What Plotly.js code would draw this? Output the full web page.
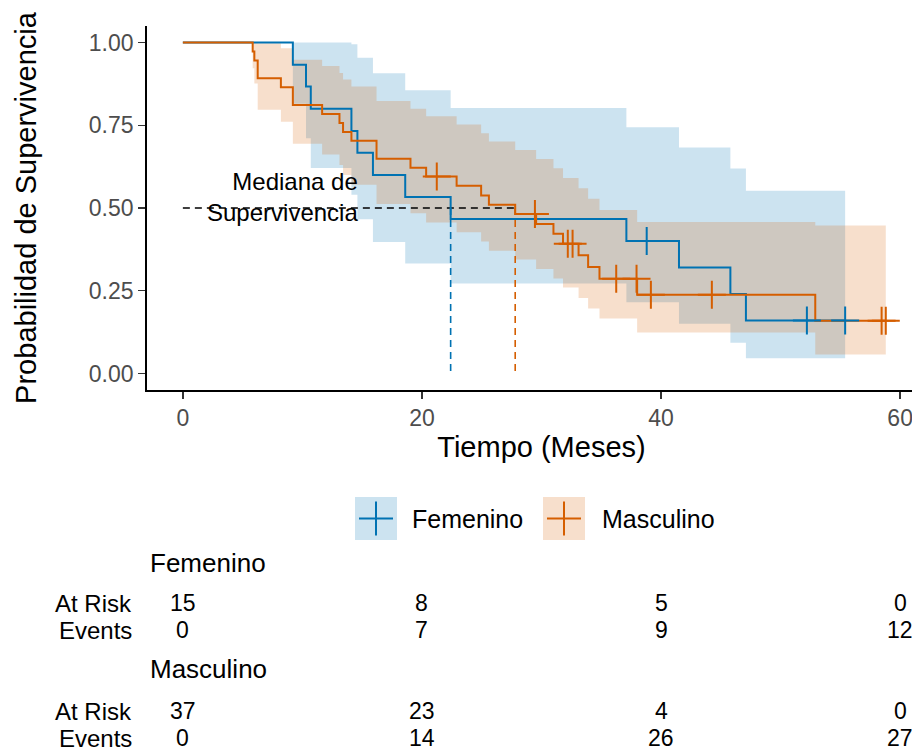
<!DOCTYPE html>
<html>
<head>
<meta charset="utf-8">
<script src="https://cdn.plot.ly/plotly-3.0.1.min.js"></script>
<style>
html,body{margin:0;padding:0;overflow:hidden;background:#fff;}
#chart{width:936px;height:753px;}
</style>
</head>
<body>
<div id="chart"></div>
<script>
// ---- Data ----
const groups = ["Femenino", "Masculino"];
const colors = ["#0072B2", "#D55E00"];
const ribbonColors = ["rgba(0,114,178,0.2)", "rgba(213,94,0,0.2)"];

const femTime  = [0, 9.2, 10.3, 10.7, 14.1, 14.6, 15.9, 18.6, 22.4, 37.1, 41.5, 45.8, 47.1, 55.4];
const femSurv  = [1, 0.933, 0.867, 0.800, 0.733, 0.667, 0.600, 0.533, 0.467, 0.400, 0.320, 0.240, 0.160, 0.160];
const femUpper = [1, 1, 1, 1, 0.995, 0.954, 0.907, 0.856, 0.802, 0.744, 0.683, 0.619, 0.552, 0.552];
const femLower = [1, 0.815, 0.711, 0.621, 0.540, 0.466, 0.397, 0.332, 0.272, 0.215, 0.150, 0.093, 0.046, 0.046];
const femCensorTime = [38.8, 52.2, 55.4];
const femCensorSurv = [0.400, 0.160, 0.160];

const mascTime  = [0, 5.84, 5.98, 6.26, 8.2, 9.2, 11.65, 13.1, 13.4, 14.1, 16.2, 19.04, 20.35, 22.9, 24.95, 25.6, 27.8, 29.55, 31.0, 31.8, 33.1, 33.9, 34.85, 38.0, 52.9, 58.8];
const mascSurv  = [1, 0.973, 0.946, 0.892, 0.865, 0.811, 0.784, 0.757, 0.730, 0.703, 0.649, 0.622, 0.595, 0.567, 0.538, 0.510, 0.482, 0.452, 0.422, 0.392, 0.357, 0.322, 0.286, 0.238, 0.159, 0.159];
const mascUpper = [1, 1, 1, 0.998, 0.983, 0.948, 0.929, 0.908, 0.888, 0.867, 0.823, 0.800, 0.777, 0.752, 0.726, 0.701, 0.675, 0.648, 0.620, 0.591, 0.560, 0.528, 0.494, 0.458, 0.447, 0.447];
const mascLower = [1, 0.922, 0.876, 0.797, 0.761, 0.694, 0.662, 0.630, 0.600, 0.570, 0.512, 0.484, 0.456, 0.427, 0.399, 0.371, 0.344, 0.316, 0.287, 0.260, 0.228, 0.196, 0.166, 0.124, 0.057, 0.057];
const mascCensorTime = [21.24, 29.45, 32.2, 32.6, 36.25, 37.95, 39.15, 44.25, 58.45, 58.8];
const mascCensorSurv = [0.595, 0.482, 0.392, 0.392, 0.286, 0.286, 0.238, 0.238, 0.159, 0.159];

const medianTimes = [22.4, 27.8];
const medianLevel = 0.5;

const tableTimes = [0, 20, 40, 60];
const femAtRisk  = [15, 8, 5, 0];
const femEvents  = [0, 7, 9, 12];
const mascAtRisk = [37, 23, 4, 0];
const mascEvents = [0, 14, 26, 27];

const xTicks = [0, 20, 40, 60];
const yTicks = [0, 0.25, 0.5, 0.75, 1];
const yTickText = ["0.00", "0.25", "0.50", "0.75", "1.00"];

// ---- Build traces ----
const FONT = "Liberation Sans, Arial, sans-serif";
const series = [
  {t: femTime, s: femSurv, up: femUpper, lo: femLower, ct: femCensorTime, cs: femCensorSurv},
  {t: mascTime, s: mascSurv, up: mascUpper, lo: mascLower, ct: mascCensorTime, cs: mascCensorSurv}
];
const traces = [];
series.forEach((d, i) => {
  traces.push({x: d.t, y: d.lo, type: "scatter", mode: "lines", line: {width: 0, shape: "hv"},
    hoverinfo: "skip", showlegend: false});
  traces.push({x: d.t, y: d.up, type: "scatter", mode: "lines", line: {width: 0, shape: "hv"},
    fill: "tonexty", fillcolor: ribbonColors[i], hoverinfo: "skip", showlegend: false});
});
// median reference lines
traces.push({x: [0, Math.max(...medianTimes)], y: [medianLevel, medianLevel], type: "scatter", mode: "lines",
  line: {color: "#000", width: 1.6, dash: "7px,5px"}, showlegend: false, hoverinfo: "skip"});
medianTimes.forEach((m, i) => {
  traces.push({x: [m, m], y: [medianLevel, 0], type: "scatter", mode: "lines",
    line: {color: colors[i], width: 1.6, dash: "7px,5px"}, showlegend: false, hoverinfo: "skip"});
});
// survival curves
series.forEach((d, i) => {
  traces.push({x: d.t, y: d.s, type: "scatter", mode: "lines", name: groups[i],
    line: {color: colors[i], width: 2, shape: "hv"}, showlegend: false});
});
// censor marks
series.forEach((d, i) => {
  traces.push({x: d.ct, y: d.cs, type: "scatter", mode: "markers", name: groups[i] + " censor",
    marker: {symbol: "cross-thin", size: 20, line: {color: colors[i], width: 2}, color: colors[i]},
    showlegend: false});
});

// ---- Layout helpers ----
const W = 936, H = 753, ML = 147, MT = 26;
const PW = W - ML, PH = H - MT;
const px2x = px => (px - ML) / PW;
const py2y = py => (H - py) / PH;

const annotations = [];
annotations.push({x: 14.8, y: 0.532, xref: "x", yref: "y", text: "Mediana de<br>Supervivencia",
  showarrow: false, xanchor: "right", align: "right", font: {family: FONT, size: 24, color: "#000"}});

// risk table
const tableBlocks = [
  {name: groups[0], risk: femAtRisk, ev: femEvents, hy: 563, ry: 603, ey: 630},
  {name: groups[1], risk: mascAtRisk, ev: mascEvents, hy: 669, ry: 711, ey: 738}
];
const TF = {family: FONT, size: 23, color: "#000"};
const LF = {family: FONT, size: 24, color: "#000"};
const HF = {family: FONT, size: 26, color: "#000"};
tableBlocks.forEach(b => {
  annotations.push({x: px2x(148), y: py2y(b.hy), xref: "paper", yref: "paper", text: b.name,
    showarrow: false, xanchor: "left", yanchor: "middle", font: HF});
  annotations.push({x: px2x(134), y: py2y(b.ry), xref: "paper", yref: "paper", text: "At Risk",
    showarrow: false, xanchor: "right", yanchor: "middle", font: LF});
  annotations.push({x: px2x(134), y: py2y(b.ey), xref: "paper", yref: "paper", text: "Events",
    showarrow: false, xanchor: "right", yanchor: "middle", font: LF});
  tableTimes.forEach((t, k) => {
    annotations.push({x: t, y: py2y(b.ry), xref: "x", yref: "paper", text: String(b.risk[k]),
      showarrow: false, xanchor: "center", yanchor: "middle", font: TF});
    annotations.push({x: t, y: py2y(b.ey), xref: "x", yref: "paper", text: String(b.ev[k]),
      showarrow: false, xanchor: "center", yanchor: "middle", font: TF});
  });
});

// legend (drawn)
const shapes = [];
const legendItems = [{x0: 355, tx: 410}, {x0: 543, tx: 600}];
legendItems.forEach((it, i) => {
  const cx = it.x0 + 21, cy = 518.5;
  shapes.push({type: "rect", xref: "paper", yref: "paper", x0: px2x(it.x0), x1: px2x(it.x0 + 42),
    y0: py2y(540), y1: py2y(497), fillcolor: ribbonColors[i], line: {width: 0}});
  shapes.push({type: "line", xref: "paper", yref: "paper", x0: px2x(cx - 17), x1: px2x(cx + 17),
    y0: py2y(cy), y1: py2y(cy), line: {color: colors[i], width: 2}});
  shapes.push({type: "line", xref: "paper", yref: "paper", x0: px2x(cx), x1: px2x(cx),
    y0: py2y(cy - 17), y1: py2y(cy + 17), line: {color: colors[i], width: 2}});
  annotations.push({x: px2x(it.tx), y: py2y(519), xref: "paper", yref: "paper", text: groups[i],
    showarrow: false, xanchor: "left", yanchor: "middle", font: {family: FONT, size: 25, color: "#000"}});
});

const layout = {
  width: W, height: H,
  margin: {l: ML, r: 0, t: MT, b: 0},
  paper_bgcolor: "#fff", plot_bgcolor: "#fff",
  showlegend: false,
  font: {family: FONT},
  xaxis: {
    range: [-3, 63], domain: [0, 1], anchor: "y",
    tickvals: xTicks, ticks: "outside", ticklen: 7, tickwidth: 1.5, tickcolor: "#333",
    tickfont: {family: FONT, size: 23, color: "#4D4D4D"},
    showline: true, linecolor: "#000", linewidth: 1.8, showgrid: false, zeroline: false,
    title: {text: "Tiempo (Meses)", font: {family: FONT, size: 29, color: "#000"}, standoff: 6}
  },
  yaxis: {
    range: [-0.05, 1.05], domain: [py2y(390), 1],
    tickvals: yTicks, ticktext: yTickText, ticks: "outside", ticklen: 7, tickwidth: 1.5, tickcolor: "#333",
    tickfont: {family: FONT, size: 23, color: "#4D4D4D"},
    showline: true, linecolor: "#000", linewidth: 1.8, showgrid: false, zeroline: false,
    title: {text: "Probabilidad de Supervivencia", font: {family: FONT, size: 29, color: "#000"}, standoff: 44}
  },
  annotations: annotations,
  shapes: shapes
};

Plotly.newPlot("chart", traces, layout, {displayModeBar: false, staticPlot: true});
</script>
</body>
</html>
